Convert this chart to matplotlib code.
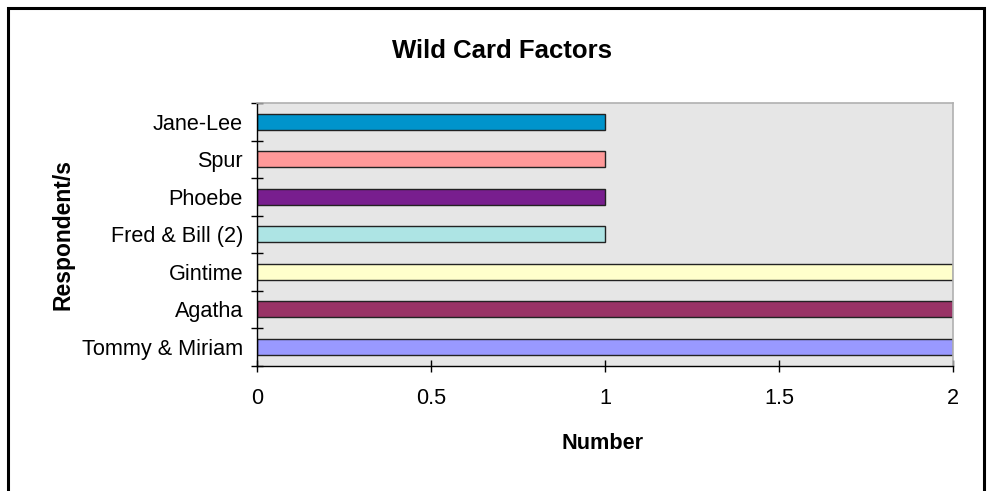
import matplotlib
matplotlib.use("Agg")
import matplotlib.pyplot as plt
from matplotlib.patches import Rectangle
import numpy as np

plt.rcParams['font.family'] = ['Liberation Sans', 'DejaVu Sans']

# Respondents listed bottom to top
respondents = ["Tommy & Miriam", "Agatha", "Gintime", "Fred & Bill (2)",
               "Phoebe", "Spur", "Jane-Lee"]
counts = [2, 2, 2, 1, 1, 1, 1]
bar_colors = ["#9999ff", "#993366", "#ffffcc", "#ade4e4",
              "#781e8e", "#ff9999", "#0094cc"]
x_ticks = [0, 0.5, 1, 1.5, 2]
x_tick_labels = ["0", "0.5", "1", "1.5", "2"]

W, H = 992, 491
fig = plt.figure(figsize=(W / 100, H / 100), dpi=100)
fig.patch.set_facecolor("white")

def fx(px):
    return px / W

def fy(py):
    return 1 - py / H

# outer chart frame
fig.add_artist(Rectangle((fx(8), fy(H + 10)), fx(984) - fx(8), fy(8) - fy(H + 10),
                         transform=fig.transFigure, fill=False,
                         edgecolor="black", linewidth=2.2))

left, right, top, bottom = 257, 953, 103, 365.5
ax = fig.add_axes([fx(left), fy(bottom), fx(right) - fx(left), fy(top) - fy(bottom)])
ax.set_facecolor("#e6e6e6")

y = np.arange(len(respondents))
ax.barh(y, counts, height=0.43, color=bar_colors, edgecolor="#222222", linewidth=1.0)

ax.set_xlim(0, 2)
ax.set_ylim(-0.5, len(respondents) - 0.5)

ax.set_xticks(x_ticks)
ax.set_xticklabels(x_tick_labels)
ax.set_yticks(y)
ax.set_yticklabels(respondents)
ax.set_yticks(np.arange(-0.5, len(respondents), 1), minor=True)

ax.tick_params(axis="x", direction="inout", length=9, width=1, pad=11.5,
               labelsize=15.6, colors="black")
ax.tick_params(axis="y", which="major", length=0, pad=10, labelsize=15.6)
ax.tick_params(axis="y", which="minor", direction="inout", length=9, width=1)

for side in ("top", "right"):
    ax.spines[side].set_color("#b0b0b0")
    ax.spines[side].set_linewidth(1.2)
for side in ("left", "bottom"):
    ax.spines[side].set_color("black")
    ax.spines[side].set_linewidth(1.0)

fig.text(fx(502), fy(57.5), "Wild Card Factors", ha="center", va="baseline",
         fontsize=18.5, fontweight="bold")
fig.text(fx(603), fy(449), "Number", ha="center", va="baseline",
         fontsize=15.6, fontweight="bold")
fig.text(fx(63), fy(234), "Respondent/s", ha="center", va="center",
         rotation=90, fontsize=16.5, fontweight="bold")

fig.savefig("out.png", dpi=100)
